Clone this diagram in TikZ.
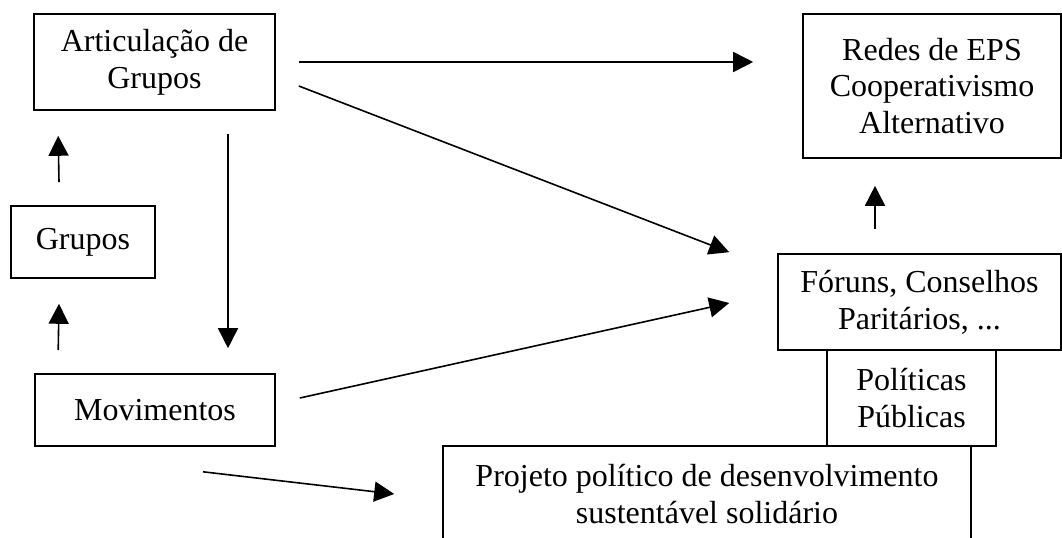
\documentclass[tikz,border=0pt]{standalone}
\usepackage{fontspec}
\setmainfont{Liberation Serif}
\usetikzlibrary{arrows.meta,calc}

\begin{document}
\begin{tikzpicture}
            [
                x = 0.75pt, y = -0.75pt,
                every node/.style = {shape=rectangle, draw, line width=1.2pt,
                align=center, inner sep=0pt,
                font=\fontsize{24}{27.6}\selectfont},
                flow/.style = {line width=1.2pt,
                -{Triangle[length=15pt,width=15pt]}}
            ]
            \useasboundingbox (0,0) rectangle (1062,538);
            \node (artic) [minimum width=180.75pt, minimum height=72pt]
                at (154.5,62) {Articulação de \\ Grupos};
            \node (redes) [minimum width=193.5pt, minimum height=108pt]
                at (932,86) {Redes de EPS \\ Cooperativismo \\ Alternativo};
            \node (grupos) [minimum width=108pt, minimum height=54pt]
                at (83,242) {Grupos};
            \node (movim) [minimum width=180pt, minimum height=54pt]
                at (155,410) {Movimentos};
            \node (foruns) [minimum width=212.25pt, minimum height=72pt]
                at (919.5,302) {Fóruns, Conselhos \\ Paritários, ...};
            \node (polit) [minimum width=126.75pt, minimum height=72pt]
                at (911.5,398) {Políticas \\ Públicas};
            \node (projeto) [minimum width=396pt, minimum height=72pt]
                at (707,494) {Projeto político de desenvolvimento \\ sustentável solidário};
            \draw [flow] ($(artic.east)+(23,0)$) -- ($(redes.west)+(-49,-24)$);
            \draw [flow] ($(artic.east)+(23,24)$) -- ($(foruns.north west)+(-48,-1)$);
            \draw [flow] ($(artic.south)+(73.5,23)$) -- ($(movim.north)+(73,-25)$);
            \draw [flow] ($(grupos.north)+(-24,-23)$) -- ($(artic.south west)+(25,25)$);
            \draw [flow] ($(movim.north west)+(24,-23)$) -- ($(grupos.south)+(-24,25)$);
            \draw [flow] ($(movim.east)+(24,-12)$) -- ($(foruns.west)+(-48,1)$);
            \draw [flow] ($(movim.south)+(48,25)$) -- ($(projeto.west)+(-48,0)$);
            \draw [flow] ($(foruns.north)+(-44.5,-24)$) -- ($(redes.south)+(-57,27)$);
        \end{tikzpicture}
\end{document}
